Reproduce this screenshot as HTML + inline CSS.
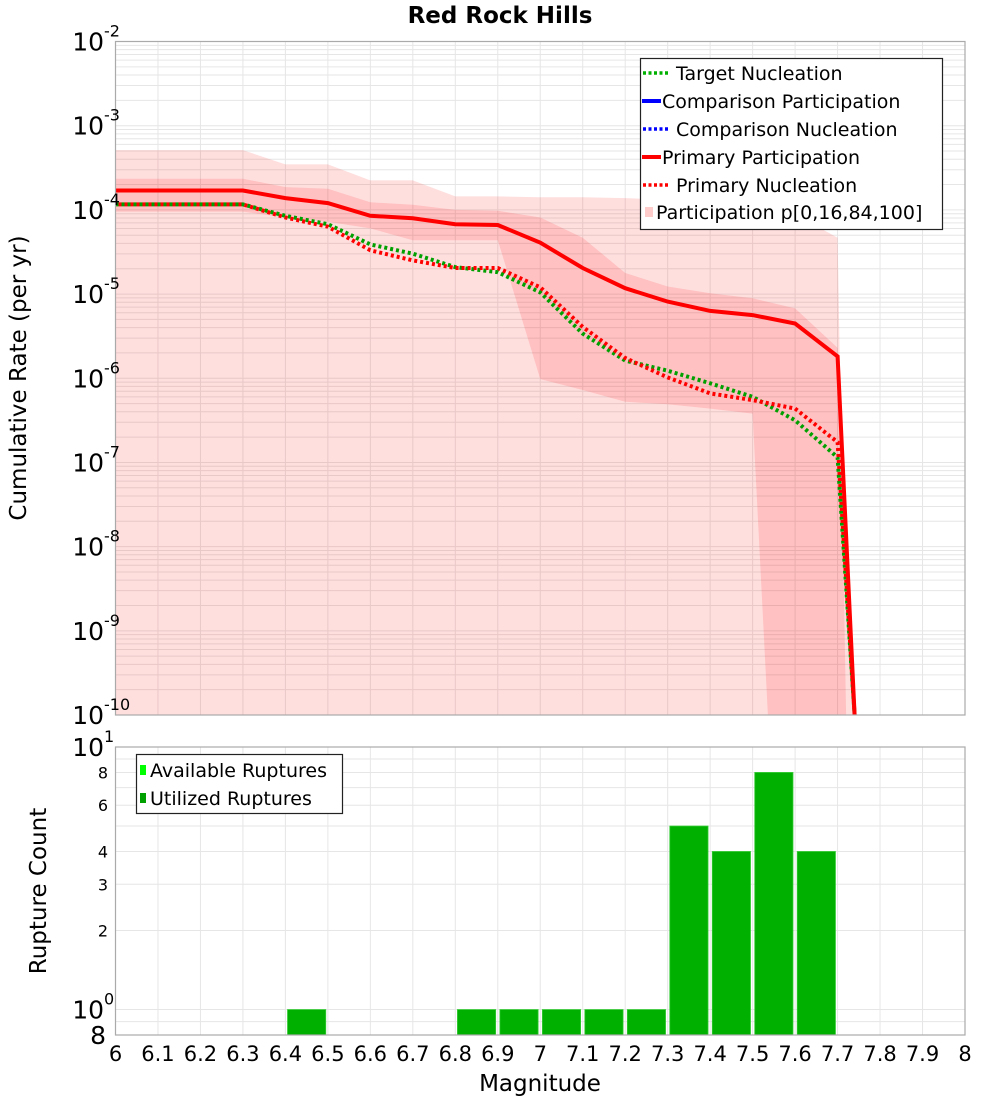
<!DOCTYPE html>
<html><head><meta charset="utf-8"><style>
html,body{margin:0;padding:0;background:#fff;}
svg{display:block;font-family:"Liberation Sans","DejaVu Sans",sans-serif;}
</style></head><body>
<svg id="chart" width="1000" height="1100" viewBox="0 0 1000 1100" xmlns="http://www.w3.org/2000/svg">
<text x="500" y="23" text-anchor="middle" font-size="23" font-weight="bold" font-family="DejaVu Sans, sans-serif">Red Rock Hills</text>
<g id="topg"></g><g id="botg"></g>
<text transform="translate(26,378) rotate(-90)" text-anchor="middle" font-size="23" font-family="DejaVu Sans, sans-serif">Cumulative Rate (per yr)</text>
<text transform="translate(46,891) rotate(-90)" text-anchor="middle" font-size="23" font-family="DejaVu Sans, sans-serif">Rupture Count</text>
<text x="540" y="1091" text-anchor="middle" font-size="23" font-family="DejaVu Sans, sans-serif">Magnitude</text>
</svg>
<script>
const mags = [6.0,6.1,6.2,6.3,6.4,6.5,6.6,6.7,6.8,6.9,7.0,7.1,7.2,7.3,7.4,7.5,7.6,7.7,7.74];
const primaryPartLog = [-3.77,-3.77,-3.77,-3.77,-3.86,-3.92,-4.07,-4.10,-4.17,-4.18,-4.39,-4.69,-4.93,-5.09,-5.20,-5.25,-5.35,-5.74,-10];
const primaryNuclLog = [-3.935,-3.935,-3.935,-3.935,-4.09,-4.20,-4.48,-4.60,-4.69,-4.69,-4.92,-5.39,-5.76,-5.99,-6.18,-6.26,-6.36,-6.76,-10];
const targetNuclLog = [-3.935,-3.935,-3.935,-3.935,-4.07,-4.17,-4.41,-4.52,-4.68,-4.74,-4.98,-5.47,-5.79,-5.91,-6.06,-6.22,-6.50,-6.94,-10];
const outerMags = [6.0,6.1,6.2,6.3,6.4,6.5,6.6,6.7,6.8,6.9,7.0,7.1,7.2,7.3,7.4,7.5,7.6,7.7,7.72];
const outerUpperLog = [-3.29,-3.29,-3.29,-3.29,-3.46,-3.46,-3.65,-3.65,-3.84,-3.84,-3.85,-3.85,-3.86,-3.88,-3.91,-3.95,-4.05,-4.33,-10];
const innerUpperMags = [6.0,6.1,6.2,6.3,6.4,6.5,6.6,6.7,6.8,6.9,7.0,7.1,7.2,7.3,7.4,7.5,7.6,7.7,7.74];
const innerUpperLog = [-3.63,-3.63,-3.63,-3.63,-3.73,-3.75,-3.91,-3.94,-4.0,-4.01,-4.09,-4.33,-4.75,-4.91,-4.99,-5.05,-5.17,-5.64,-10];
const innerLowerMags = [6.0,6.1,6.2,6.3,6.4,6.5,6.6,6.7,6.8,6.9,7.0,7.1,7.2,7.3,7.4,7.5,7.536];
const innerLowerLog = [-4.02,-4.02,-4.02,-4.02,-4.09,-4.14,-4.22,-4.36,-4.36,-4.36,-6.01,-6.14,-6.28,-6.31,-6.36,-6.42,-10];
const barMags = [6.4,6.8,6.9,7.0,7.1,7.2,7.3,7.4,7.5,7.6];
const barCounts = [1,1,1,1,1,1,5,4,8,4];
const xTicks = ["6","6.1","6.2","6.3","6.4","6.5","6.6","6.7","6.8","6.9","7","7.1","7.2","7.3","7.4","7.5","7.6","7.7","7.8","7.9","8"];
const topExps = [-2,-3,-4,-5,-6,-7,-8,-9,-10];
const botTickVals = [8,6,4,3,2];

const NS="http://www.w3.org/2000/svg";
const L=115.5,R=965,T1=41.5,B1=715,T2=747,B2=1035;
const X=m=>L+(m-6)/2*(R-L);
const Y1=lv=>T1+(-2-lv)/8*(B1-T1);
const bMin=Math.log10(0.8),bMax=1;
const Y2=v=>T2+(bMax-Math.log10(v))/(bMax-bMin)*(B2-T2);
function mk(p,tag,at){const e=document.createElementNS(NS,tag);for(const k in at)e.setAttribute(k,at[k]);p.appendChild(e);return e;}
const topG=document.getElementById('topg'),botG=document.getElementById('botg');

let gg=mk(topG,'g',{});


for(let d=-10;d<-2;d++)for(let k=1;k<10;k++){const y=Y1(d+Math.log10(k));mk(gg,'line',{x1:L,x2:R,y1:y,y2:y,stroke:'#e6e6e6','stroke-width':1});}
for(let i=0;i<=20;i++){const x=X(6+i*0.1);mk(gg,'line',{x1:x,x2:x,y1:T1,y2:B1,stroke:'#e6e6e6','stroke-width':1});}

function pts(ms,ls){return ms.map((m,i)=>X(m).toFixed(1)+','+Y1(ls[i]).toFixed(1));}
let ob=mk(topG,'polygon',{points:pts(outerMags,outerUpperLog).join(' ')+' '+X(7.72)+','+B1+' '+L+','+B1,fill:'#ff0000','fill-opacity':0.13});


let ib=mk(topG,'polygon',{points:pts(innerUpperMags,innerUpperLog).join(' ')+' '+pts(innerLowerMags,innerLowerLog).reverse().join(' '),fill:'#ff0000','fill-opacity':0.13});



let tl=mk(topG,'polyline',{points:pts(mags,targetNuclLog).join(' '),fill:'none',stroke:'#00a000','stroke-width':4,'stroke-dasharray':'3,3'});


let pn=mk(topG,'polyline',{points:pts(mags,primaryNuclLog).join(' '),fill:'none',stroke:'#ff0000','stroke-width':4,'stroke-dasharray':'3,3','stroke-dashoffset':3});


let pp=mk(topG,'polyline',{points:pts(mags,primaryPartLog).join(' '),fill:'none',stroke:'#ff0000','stroke-width':4});


mk(topG,'rect',{x:L,y:T1,width:R-L,height:B1-T1,fill:'none',stroke:'#aaa','stroke-width':1.2});

topExps.forEach(e=>{const y=Y1(e);
 const t=mk(topG,'text',{x:104,y:y+9,'text-anchor':'end','font-size':25,'font-family':'DejaVu Sans, sans-serif'});
 
 
 t.textContent='10';
 const s=mk(topG,'text',{x:104,y:y-5,'font-size':16,'font-family':'DejaVu Sans, sans-serif'});
 
 
 s.textContent=String(e);
});

let lg=mk(topG,'g',{});


mk(lg,'rect',{x:640.5,y:58.5,width:302,height:171,fill:'#fff',stroke:'#222','stroke-width':1.2});
const leg=[['Target Nucleation','#00b000',true],['Comparison Participation','#0000ff',false],['Comparison Nucleation','#0000ff',true],['Primary Participation','#ff0000',false],['Primary Nucleation','#ff0000',true]];
leg.forEach((e,i)=>{const y=73+i*28;
 const g=mk(lg,'g',{});
 
 
 if(e[2]){mk(g,'line',{x1:643,x2:670,y1:y,y2:y,stroke:e[1],'stroke-width':3.5,'stroke-dasharray':'3,2.5'});}
 else mk(g,'line',{x1:642,x2:661,y1:y,y2:y,stroke:e[1],'stroke-width':4});
 const t=mk(g,'text',{x:e[2]?676:662,y:y+7,'font-size':19,'font-family':'DejaVu Sans, sans-serif'});t.textContent=e[0];
});
{const g=mk(lg,'g',{});
 
 
 mk(g,'rect',{x:645,y:207,width:8,height:10,fill:'#ffcccc'});
 const t=mk(g,'text',{x:656,y:219,'font-size':19,'font-family':'DejaVu Sans, sans-serif'});t.textContent='Participation p[0,16,84,100]';}

let bg=mk(botG,'g',{});


[0.8,0.9,1,2,3,4,5,6,7,8,9].forEach(v=>{const y=Y2(v);mk(bg,'line',{x1:L,x2:R,y1:y,y2:y,stroke:'#e6e6e6','stroke-width':1});});
for(let i=0;i<=20;i++){const x=X(6+i*0.1);mk(bg,'line',{x1:x,x2:x,y1:T2,y2:B2,stroke:'#e6e6e6','stroke-width':1});}
barMags.forEach((m,i)=>{const x0=X(m+0.005),x1=X(m+0.095),y=Y2(barCounts[i]);
 const b=mk(botG,'rect',{x:x0,y:y,width:x1-x0,height:B2-y,fill:'#00b000',stroke:'#33cc33','stroke-width':0.8});
 
 
});
mk(botG,'rect',{x:L,y:T2,width:R-L,height:B2-T2,fill:'none',stroke:'#aaa','stroke-width':1.2});
function btxt(x,y,s,fs,anchor,name){const t=mk(botG,'text',{x:x,y:y,'text-anchor':anchor,'font-size':fs,'font-family':'DejaVu Sans, sans-serif'});t.textContent=s;return t;}
btxt(104,Y2(10)+9,'10',25,'end','y-tick-label-bottom');btxt(104,Y2(10)-5,'1',16,'start','y-tick-exponent-bottom');
btxt(104,Y2(1)+9,'10',25,'end','y-tick-label-bottom');btxt(104,Y2(1)-5,'0',16,'start','y-tick-exponent-bottom');
btxt(106,B2+9,'8',25,'end','y-tick-label-bottom');
botTickVals.forEach(v=>btxt(108,Y2(v)+6,String(v),16,'end','y-tick-label-bottom'));
xTicks.forEach((s,i)=>btxt(X(6+i*0.1),1061,s,21,'middle','x-tick-label'));
let bl=mk(botG,'g',{});


mk(bl,'rect',{x:136.5,y:754.5,width:206,height:59,fill:'#fff',stroke:'#222','stroke-width':1.2});
[['Available Ruptures','#00ff00',770],['Utilized Ruptures','#00a000',798]].forEach(e=>{
 const g=mk(bl,'g',{});
 
 
 mk(g,'rect',{x:140,y:e[2]-5,width:6,height:10,fill:e[1]});
 const t=mk(g,'text',{x:150,y:e[2]+7,'font-size':19,'font-family':'DejaVu Sans, sans-serif'});t.textContent=e[0];
});
</script>
</body></html>
